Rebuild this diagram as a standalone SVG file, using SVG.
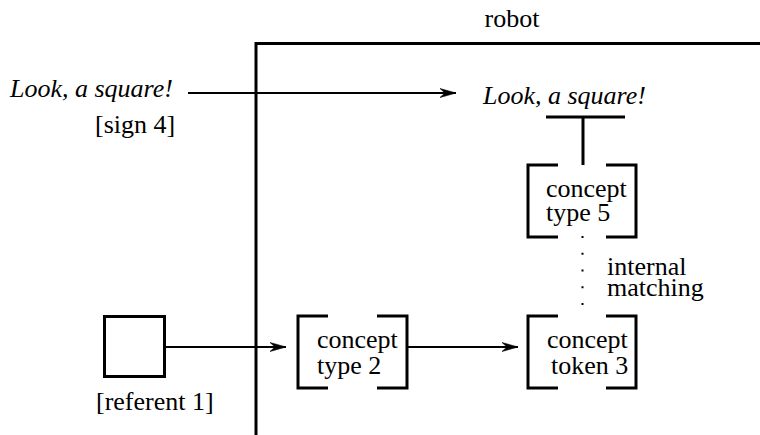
<svg xmlns="http://www.w3.org/2000/svg" width="760" height="435" viewBox="0 0 760 435">
<defs>
<style>
text{font-family:"Liberation Serif","Times New Roman",serif;font-size:26px;fill:#000}
.it{font-style:italic}
.thick{stroke:#000;stroke-width:3;fill:none}
.conn{stroke:#000;stroke-width:2;fill:none}
</style>
<marker id="ah" markerUnits="userSpaceOnUse" markerWidth="20" markerHeight="12" refX="16" refY="6" orient="auto">
<path d="M0,1.5 L16,6 L0,10.5 L5,6 Z" fill="#000" stroke="#000" stroke-width="0.6"/>
</marker>
</defs>
<g id="frame">
<path class="thick" d="M256,435 V43.5 H760"/>
<text x="512" y="27" text-anchor="middle" font-size="27">robot</text>
</g>
<g id="sign4">
<text class="it" x="10" y="97">Look, a square!</text>
<text x="95" y="133">[sign 4]</text>
</g>
<g id="utterance">
<text class="it" x="483" y="104">Look, a square!</text>
<path class="thick" d="M546,117 H625 M583,117 V165"/>
</g>
<g id="referent1">
<rect class="thick" x="104.5" y="316.5" width="60" height="60"/>
<text x="96" y="410">[referent 1]</text>
</g>
<g id="type5">
<path class="thick" d="M558,165 H528 V237 H558 M606,165 H636 V237 H606"/>
<text x="546" y="197">concept</text>
<text x="546" y="221">type 5</text>
</g>
<g id="type2">
<path class="thick" d="M328,316 H298 V388 H328 M377,316 H407 V388 H377"/>
<text x="317" y="348">concept</text>
<text x="317" y="374">type 2</text>
</g>
<g id="token3">
<path class="thick" d="M558,316 H528 V388 H558 M606,316 H636 V388 H606"/>
<text x="547" y="348">concept</text>
<text x="551" y="374">token 3</text>
</g>
<g id="matching-label">
<text x="607" y="275">internal</text>
<text x="607" y="296">matching</text>
</g>
<g id="connectors">
<line class="conn" x1="188" y1="93" x2="456" y2="93" marker-end="url(#ah)"/>
<line class="conn" x1="165" y1="347" x2="286" y2="347" marker-end="url(#ah)"/>
<line class="conn" x1="407" y1="347" x2="518" y2="347" marker-end="url(#ah)"/>
<line x1="582.5" y1="236" x2="582.5" y2="306" stroke="#000" stroke-width="2" stroke-dasharray="2 14.75"/>
</g>
</svg>
